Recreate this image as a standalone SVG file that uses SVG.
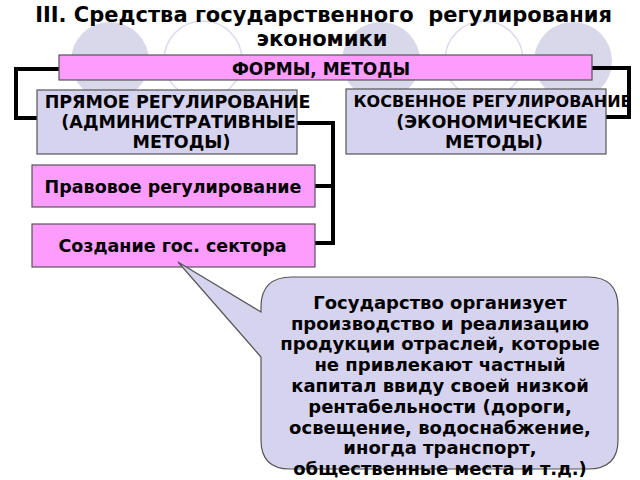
<svg xmlns="http://www.w3.org/2000/svg" width="640" height="480" viewBox="0 0 640 480">
<style>
text{font-family:"DejaVu Sans","Noto Sans",sans-serif;font-weight:bold;fill:#000;text-anchor:middle}
.bgf{fill:#d9d7ea}
.bgo{fill:none;stroke:#dcdaec;stroke-width:1.5}
.pink{fill:#fc9cfc;stroke:#555;stroke-width:1.2}
.lav{fill:#d6d3ee;stroke:#555;stroke-width:1.2}
.conn{fill:none;stroke:#000;stroke-width:4}
.box{font-size:17.5px}
.call{font-size:18px}
</style>
<rect width="640" height="480" fill="#fff"/>
<g id="background">
<circle class="bgf" cx="110" cy="61" r="39"/>
<circle class="bgo" cx="203" cy="60" r="39"/>
<circle class="bgf" cx="381" cy="61" r="39"/>
<circle class="bgo" cx="484" cy="60" r="39"/>
<circle class="bgf" cx="573" cy="61" r="39"/>
</g>
<g id="title">
<text x="323.5" y="21.5" font-size="21">III. Средства государственного&#160; регулирования</text>
<text x="322" y="46" font-size="21">экономики</text>
</g>
<g id="connectors">
<polyline class="conn" points="59,69 16,69 16,118 37,118"/>
<polyline class="conn" points="592,68 629,68 629,117 606,117"/>
<polyline class="conn" points="297,123 333,123 333,243 315,243"/>
<line class="conn" x1="315" y1="186" x2="333" y2="186"/>
</g>
<g id="forms">
<rect class="pink" x="59" y="55" width="533" height="25"/>
<text x="321" y="75" font-size="17">ФОРМЫ, МЕТОДЫ</text>
</g>
<g id="direct">
<rect class="lav" x="37" y="90" width="260" height="64"/>
<text class="box" x="177.5" y="108">ПРЯМОЕ РЕГУЛИРОВАНИЕ</text>
<text class="box" x="178.5" y="128">(АДМИНИСТРАТИВНЫЕ</text>
<text class="box" x="181.5" y="148">МЕТОДЫ)</text>
</g>
<g id="indirect">
<rect class="lav" x="346" y="89" width="260" height="65"/>
<text x="492.5" y="107" font-size="16">КОСВЕННОЕ РЕГУЛИРОВАНИЕ</text>
<text class="box" x="492" y="128">(ЭКОНОМИЧЕСКИЕ</text>
<text class="box" x="494" y="148">МЕТОДЫ)</text>
</g>
<g id="legal">
<rect class="pink" x="32" y="165" width="283" height="42"/>
<text class="box" x="173" y="193">Правовое регулирование</text>
</g>
<g id="sector">
<rect class="pink" x="32" y="224" width="283" height="43"/>
<text class="box" x="172.5" y="252">Создание гос. сектора</text>
</g>
<g id="callout">
<path class="lav" d="M292,277 H588 Q618,277 618,307 V440 Q618,469 588,469 H290 Q261,469 261,440 V357 L178,262 L261,312 V307 Q261,277 292,277 Z"/>
<text class="call" x="440" y="309">Государство организует</text>
<text class="call" x="440" y="330">производство и реализацию</text>
<text class="call" x="440" y="350">продукции отраслей, которые</text>
<text class="call" x="440" y="371">не привлекают частный</text>
<text class="call" x="440" y="392">капитал ввиду своей низкой</text>
<text class="call" x="440" y="413">рентабельности (дороги,</text>
<text class="call" x="440" y="434">освещение, водоснабжение,</text>
<text class="call" x="440" y="454">иногда транспорт,</text>
<text class="call" x="440" y="475">общественные места и т.д.)</text>
</g>
</svg>
